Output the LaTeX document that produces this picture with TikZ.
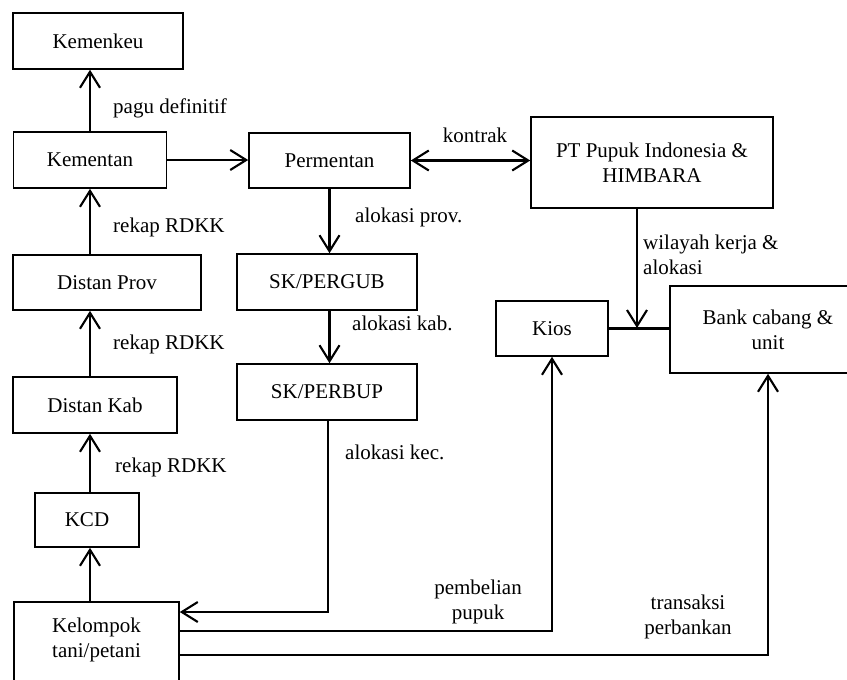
\documentclass[tikz,border=0pt]{standalone}
\usepackage{fontspec}
\setmainfont{Liberation Serif}
\usetikzlibrary{arrows.meta}
\begin{document}
\begin{tikzpicture}[x=1pt,y=-1pt,
  font=\fontsize{21}{25}\selectfont,
  box/.style={draw, line width=1.6pt, rectangle, inner sep=0pt, align=center},
  lbl/.style={inner sep=0pt, align=left},
  conn/.style={line width=2.1pt},
  arr/.style={conn, -{Straight Barb[length=16pt,width=20pt,line width=2.1pt]}},
  darr/.style={conn, {Straight Barb[length=16pt,width=20pt,line width=2.1pt]}-{Straight Barb[length=16pt,width=20pt,line width=2.1pt]}}]
\useasboundingbox (0,0) rectangle (847,680);
% boxes
\node[box, minimum width=170pt, minimum height=56pt] (kemenkeu) at (98,41) {Kemenkeu};
\node[box, minimum width=153pt, minimum height=56pt] (kementan) at (90,160) {Kementan};
\node[box, minimum width=161pt, minimum height=55pt] (permentan) at (329.5,160.5) {Permentan};
\node[box, minimum width=242pt, minimum height=91pt] (pt) at (652,162.5) {PT Pupuk Indonesia \&\\HIMBARA};
\node[box, minimum width=180pt, minimum height=56pt] (pergub) at (327,282) {SK/PERGUB};
\node[box, minimum width=180pt, minimum height=56pt] (perbup) at (327,392) {SK/PERBUP};
\node[box, minimum width=112pt, minimum height=55pt] (kios) at (552,328.5) {Kios};
\node[box, minimum width=196pt, minimum height=87pt] (bank) at (768,329.5) {Bank cabang \&\\unit};
\node[box, minimum width=188pt, minimum height=55pt] (dprov) at (107,282.5) {Distan Prov};
\node[box, minimum width=164pt, minimum height=56pt] (dkab) at (95,405) {Distan Kab};
\node[box, minimum width=104pt, minimum height=54pt] (kcd) at (87,520) {KCD};
\node[box, minimum width=165pt, minimum height=90pt] (kel) at (96.5,647) {};
\node[lbl, align=center] (keltext) at (96.5,640) {Kelompok\\tani/petani};
% helper coordinates
\coordinate (xc) at (90,0);
\coordinate (j) at (637,328);
\coordinate (kec) at (328,612);
\coordinate (ykios) at (0,631);
\coordinate (ybank) at (0,655);
% connectors
\draw[arr] (kementan.north) -- (kementan.north |- kemenkeu.south);
\draw[arr] (kementan.east) -- (kementan.east -| permentan.west);
\draw[darr] (permentan.east) -- (permentan.east -| pt.west);
\draw[arr] (permentan.south) -- (permentan.south |- pergub.north);
\draw[arr] (permentan.south |- pergub.south) -- (permentan.south |- perbup.north);
\draw[arr] (perbup.south -| kec) -- (kec) -- (kec -| kel.east);
\draw[arr] (pt.south -| j) -- (j);
\draw[conn] (kios.east) -- (kios.east -| bank.west);
\draw[arr] (xc |- dprov.north) -- (xc |- kementan.south);
\draw[arr] (xc |- dkab.north) -- (xc |- dprov.south);
\draw[arr] (xc |- kcd.north) -- (xc |- dkab.south);
\draw[arr] (xc |- kel.north) -- (xc |- kcd.south);
\draw[arr] (kel.east |- ykios) -| (kios.south);
\draw[arr] (kel.east |- ybank) -| (bank.south);
% labels
\node[lbl, anchor=west] (l1) at (113,108) {pagu definitif};
\node[lbl, anchor=west] (l2) at (113,227) {rekap RDKK};
\node[lbl, anchor=west] (l3) at (113,344) {rekap RDKK};
\node[lbl, anchor=west] (l4) at (115,467) {rekap RDKK};
\node[lbl] (l5) at (475,135) {kontrak};
\node[lbl, anchor=west] (l6) at (355,217) {alokasi prov.};
\node[lbl, anchor=west] (l7) at (352,323) {alokasi kab.};
\node[lbl, anchor=west] (l8) at (345,452) {alokasi kec.};
\node[lbl, anchor=west] (l9) at (643,255) {wilayah kerja \&\\alokasi};
\node[lbl, align=center] (l10) at (478,602) {pembelian\\pupuk};
\node[lbl, align=center] (l11) at (688,617) {transaksi\\perbankan};
\end{tikzpicture}
\end{document}
